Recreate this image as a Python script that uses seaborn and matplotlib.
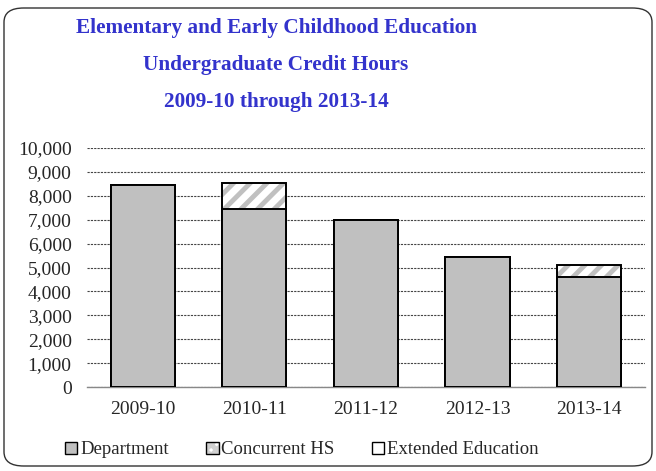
import numpy as np
import pandas as pd
import seaborn as sns
import matplotlib.pyplot as plt
from matplotlib.patches import Patch, FancyBboxPatch
from matplotlib.legend_handler import HandlerTuple
from matplotlib.ticker import StrMethodFormatter

years = ['2009-10', '2010-11', '2011-12', '2012-13', '2013-14']
department = [8450, 7450, 7000, 5430, 4590]
concurrent_hs = [0, 1100, 0, 0, 500]
extended_ed = [0, 0, 0, 0, 0]

totals = [d + c + e for d, c, e in zip(department, concurrent_hs, extended_ed)]
df = pd.DataFrame({'year': years, 'dept': department, 'total': totals})

sns.set_style('white')
plt.rcParams['font.family'] = ['Liberation Serif', 'DejaVu Serif']
plt.rcParams['hatch.linewidth'] = 3.5

fig = plt.figure(figsize=(6.56, 4.71), dpi=100)
ax = fig.add_axes([0.1326, 0.1783, 0.8506, 0.5075])

gray = '#c0c0c0'
# stacked: hatched totals first, department over them
sns.barplot(data=df, x='year', y='total', ax=ax, color='white', edgecolor=gray,
            hatch='//', linewidth=0, width=0.575, saturation=1, zorder=2)
sns.barplot(data=df, x='year', y='total', ax=ax, fill=False, edgecolor='black',
            linewidth=1.4, width=0.575, zorder=3)
sns.barplot(data=df, x='year', y='dept', ax=ax, color=gray, edgecolor='black',
            linewidth=1.4, width=0.575, saturation=1, zorder=4)

ax.set_ylim(0, 10000)
ax.set_yticks(range(0, 10001, 1000))
ax.yaxis.set_major_formatter(StrMethodFormatter('{x:,.0f}'))
ax.set_xlabel('')
ax.set_ylabel('')
ax.grid(axis='y', color='#444444', linestyle=(0, (2, 1)), linewidth=0.8, zorder=0)
ax.set_axisbelow(True)
for s in ['left', 'right', 'top']:
    ax.spines[s].set_visible(False)
ax.spines['bottom'].set_color('#888888')
ax.spines['bottom'].set_linewidth(1)
ax.tick_params(axis='both', length=0, labelsize=14)
ax.tick_params(axis='y', pad=11)
ax.tick_params(axis='x', pad=10)

title_lines = ['Elementary and Early Childhood Education',
               'Undergraduate Credit Hours',
               '2009-10 through 2013-14']
for i, line in enumerate(title_lines):
    fig.text(276 / 656, 1 - (28 + 37 * i) / 471, line, ha='center', va='center',
             fontsize=15.3, fontweight='bold', color='#3333cc')

h_dept = Patch(facecolor=gray, edgecolor='black', linewidth=1)
h_conc = (Patch(facecolor='white', edgecolor='#d0d0d0', hatch='xxx', linewidth=0),
          Patch(facecolor='none', edgecolor='black', linewidth=1))
h_ext = Patch(facecolor='white', edgecolor='black', linewidth=1)
leg = fig.legend([h_dept, h_conc, h_ext], ['Department', 'Concurrent HS', 'Extended Education'],
                 handler_map={tuple: HandlerTuple(ndivide=1, pad=0)},
                 loc='center', bbox_to_anchor=(302 / 656, 1 - 450 / 471),
                 ncol=3, frameon=False, fontsize=13.5, handlelength=0.65, handleheight=0.65,
                 handletextpad=0.15, columnspacing=2.0)
# thinner hatch lines for the small legend key
for lh in leg.legend_handles:
    pass

border = FancyBboxPatch((4 / 656, 5 / 471), 648 / 656, 458 / 471,
                        boxstyle='round,pad=0,rounding_size=0.03',
                        transform=fig.transFigure, facecolor='none',
                        edgecolor='#333333', linewidth=1)
fig.patches.append(border)

fig.savefig('out.png', dpi=100)
